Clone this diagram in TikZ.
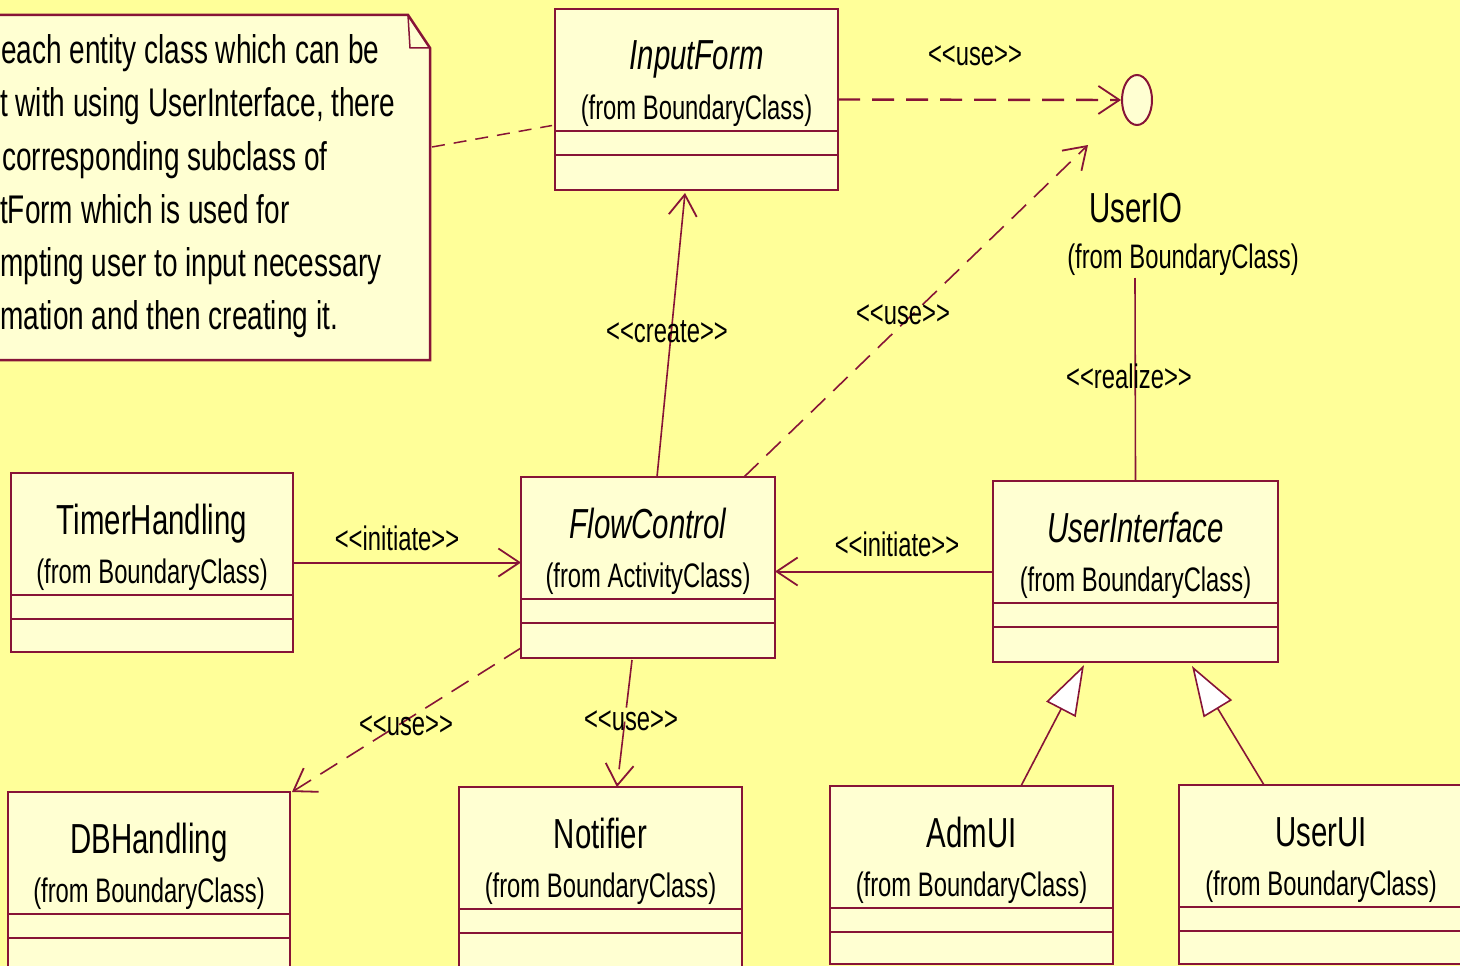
\documentclass[tikz,border=0pt]{standalone}
\usepackage{fontspec}
\setmainfont{Liberation Sans}[FakeStretch=0.7]
\usetikzlibrary{arrows.meta,shapes.geometric}
\definecolor{bg}{RGB}{255,255,153}
\definecolor{boxfill}{RGB}{255,255,210}
\definecolor{edge}{RGB}{135,20,55}
\newcommand\fnName{\fontsize{42}{42}\selectfont}
\newcommand\fnSub{\fontsize{34}{34}\selectfont}
\newcommand\fnLab{\fontsize{34}{34}\selectfont}
\newcommand\fnNote{\fontsize{40}{40}\selectfont}
\newcommand\stereo[1]{<\kern0pt<\kern0pt#1\kern0pt>\kern0pt>}
\tikzset{
  clsbox/.style={draw=edge, fill=boxfill, line width=2.5pt, inner sep=0pt, outer sep=0pt},
  compline/.style={draw=edge, line width=2.5pt},
  nametext/.style={inner sep=0pt, font=\fnName},
  subtext/.style={inner sep=0pt, font=\fnSub},
  labtext/.style={inner sep=0pt, font=\fnLab, anchor=base},
  notetext/.style={inner sep=0pt, font=\fnNote, anchor=base west},
  conn/.style={draw=edge, line width=1.6pt},
  dep/.style={conn, dash pattern=on 20pt off 11pt},
  >={Straight Barb[length=21pt,width=28pt,line width=1.8pt]},
  gen/.style={conn, -{Triangle[length=50pt,width=33pt,fill=white,line width=1.6pt]}}
}
\newcommand\UMLcls[7]{%
  \node[clsbox, minimum width=#4, minimum height=#5, anchor=north west] (#1) at (#2,#3) {};
  \draw[compline] ([yshift=-122pt]#1.north west) -- ([yshift=-122pt]#1.north east);
  \draw[compline] ([yshift=-146pt]#1.north west) -- ([yshift=-146pt]#1.north east);
  \node[nametext, anchor=base] (#1-name) at ([yshift=-61pt]#1.north) {#6};
  \node[subtext, anchor=base] (#1-from) at ([yshift=-110pt]#1.north) {#7};
}
\begin{document}
\begin{tikzpicture}[x=1pt,y=-1pt]
\fill[bg] (0,0) rectangle (1460,966);
\useasboundingbox (0,0) rectangle (1460,966);
\clip (0,0) rectangle (1460,966);

% note
\draw[draw=edge, fill=boxfill, line width=2.5pt, line join=miter]
  (-10,15) -- (408,15) -- (430,48) -- (430,360) -- (-10,360) -- cycle;
\draw[draw=edge, line width=1.5pt] (408,15) -- (410,48) -- (430,48);
\node[notetext] (n1) at (1,64) {each entity class which can be};
\node[notetext] (n2) at (0,117) {t with using UserInterface, there};
\node[notetext] (n3) at (2,170) {corresponding subclass of};
\node[notetext] (n4) at (0,223) {tForm which is used for};
\node[notetext] (n5) at (0,276) {mpting user to input necessary};
\node[notetext] (n6) at (0,329) {mation and then creating it.};
\coordinate (noteedge) at (432,147);

% classes
\UMLcls{inputform}{555}{9}{283}{181}{\itshape InputForm}{(from BoundaryClass)}
\UMLcls{timer}{11}{473}{282}{179}{TimerHandling}{(from BoundaryClass)}
\UMLcls{flow}{521}{477}{254}{181}{\itshape FlowControl}{(from ActivityClass)}
\UMLcls{ui}{993}{481}{285}{181}{\itshape UserInterface}{(from BoundaryClass)}
\UMLcls{db}{8}{792}{282}{180}{DBHandling}{(from BoundaryClass)}
\UMLcls{notifier}{459}{787}{283}{180}{Notifier}{(from BoundaryClass)}
\UMLcls{adm}{830}{786}{283}{178}{AdmUI}{(from BoundaryClass)}
\UMLcls{userui}{1179}{785}{284}{179}{UserUI}{(from BoundaryClass)}

% interface
\node[draw=edge, fill=boxfill, ellipse, line width=2pt, minimum width=30pt, minimum height=50pt, inner sep=0pt] (userio) at (1137,100) {};
\node[nametext, anchor=base] (userio-name) at (1136,222) {UserIO};
\node[subtext, anchor=base] (userio-from) at (1183,268) {(from BoundaryClass)};
\coordinate (realtop) at (1135,278);
\coordinate (usetip) at (1088,145);

% connectors
\draw[conn, line width=2.4pt, dash pattern=on 22pt off 12pt, ->] (inputform.east) -- (userio.west);
\draw[conn, line width=1.5pt, dash pattern=on 13pt off 9pt] (noteedge) -- ([xshift=-3pt,yshift=-26pt]inputform.west);
\draw[conn, ->] ([xshift=9pt]flow.north) -- ([xshift=-11.5pt,yshift=-3pt]inputform.south);
\draw[dep, ->] ([xshift=96pt]flow.north) -- (usetip);
\draw[conn] (ui.north) -- (realtop);
\draw[conn, line width=2pt, ->] (timer.east) -- (timer.east -| flow.west);
\draw[conn, line width=2pt, ->] (ui.west) -- (ui.west -| flow.east);
\draw[dep, ->] ([yshift=10pt]flow.south west) -- ([xshift=2pt]db.north east);
\draw[conn, dash pattern=on 48pt off 14pt, ->] ([xshift=-16pt,yshift=-2pt]flow.south) -- ([xshift=16.5pt]notifier.north);
\draw[gen] ([xshift=49.5pt]adm.north) -- ([xshift=-51.5pt,yshift=-3pt]ui.south);
\draw[gen] ([xshift=-57pt]userui.north) -- ([xshift=56.5pt,yshift=-4pt]ui.south);

% labels
\node[labtext] (l-use1) at (975,66) {\stereo{use}};
\node[labtext] (l-create) at (667,342) {\stereo{create}};
\node[labtext] (l-use2) at (903,324) {\stereo{use}};
\node[labtext] (l-realize) at (1129,388) {\stereo{realize}};
\node[labtext] (l-init1) at (397,550) {\stereo{initiate}};
\node[labtext] (l-init2) at (897,556) {\stereo{initiate}};
\node[labtext] (l-use3) at (406,735) {\stereo{use}};
\node[labtext] (l-use4) at (631,730) {\stereo{use}};
\end{tikzpicture}
\end{document}
